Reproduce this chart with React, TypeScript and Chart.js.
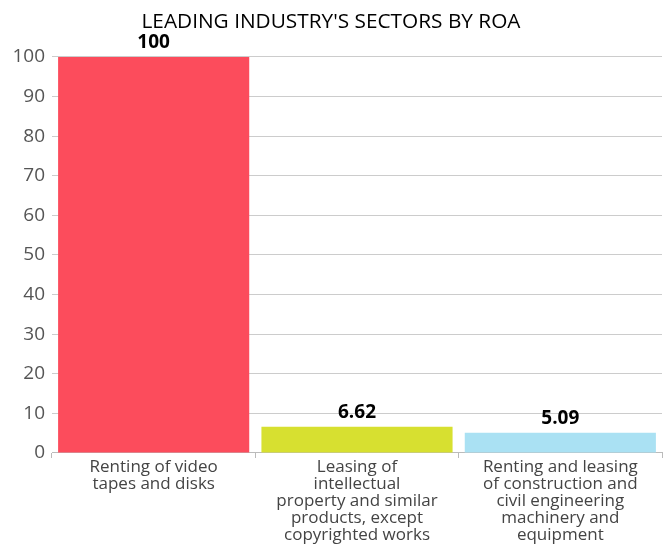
import React, { useEffect, useRef } from "react";
import { Chart, registerables } from "chart.js";

Chart.register(...registerables);

const categories: string[][] = [
  ["Renting of video", "tapes and disks"],
  ["Leasing of", "intellectual", "property and similar", "products, except", "copyrighted works"],
  ["Renting and leasing", "of construction and", "civil engineering", "machinery and", "equipment"],
];
const values: number[] = [100, 6.62, 5.09];
const valueLabels: string[] = ["100", "6.62", "5.09"];
const barColors: string[] = ["#FC4C5C", "#D7E030", "#AAE1F3"];
const titleText = "LEADING INDUSTRY'S SECTORS BY ROA";
const FONT = "'Open Sans', sans-serif";

const valueLabelPlugin = {
  id: "valueLabels",
  afterDatasetsDraw(chart: any) {
    const ctx = chart.ctx;
    const meta = chart.getDatasetMeta(0);
    ctx.save();
    ctx.font = `bold 19px ${FONT}`;
    ctx.fillStyle = "#000";
    ctx.textAlign = "center";
    ctx.textBaseline = "middle";
    meta.data.forEach((bar: any, i: number) => {
      ctx.fillText(valueLabels[i], bar.x, bar.y - 14);
    });
    ctx.restore();
  },
};

export default function App() {
  const ref = useRef<HTMLCanvasElement>(null);
  useEffect(() => {
    document.body.style.margin = "0";
    const chart = new Chart(ref.current!, {
      type: "bar",
      data: {
        labels: categories,
        datasets: [
          {
            data: values,
            backgroundColor: barColors,
            barPercentage: 0.94,
            categoryPercentage: 1,
          },
        ],
      },
      options: {
        animation: false,
        responsive: false,
        layout: { padding: { left: 0, right: 8, top: 0, bottom: 0 } },
        plugins: {
          legend: { display: false },
          tooltip: { enabled: false },
          title: {
            display: true,
            text: titleText,
            color: "#000",
            font: { family: FONT, size: 20.8, weight: "normal", lineHeight: 1.2 },
            padding: { top: 10, bottom: 22 },
          },
        },
        scales: {
          x: {
            offset: true,
            grid: { display: true, drawOnChartArea: false, tickLength: 5, color: "#BBBBBB" },
            border: { display: true, color: "#BBBBBB" },
            ticks: {
              color: "#444",
              font: { family: FONT, size: 17, lineHeight: 1.0 },
              maxRotation: 0,
              autoSkip: false,
              padding: 1,
            },
            afterFit(scale: any) {
              scale.height = 93;
            },
          },
          y: {
            min: 0,
            max: 100,
            ticks: {
              stepSize: 10,
              color: "#555",
              font: { family: FONT, size: 19 },
              padding: 7,
            },
            grid: { color: "#CCCCCC", tickLength: 0 },
            border: { display: false },
            afterFit(scale: any) {
              scale.width = 52;
            },
          },
        },
      },
      plugins: [valueLabelPlugin],
    });
    return () => chart.destroy();
  }, []);
  return (
    <div style={{ width: 670, height: 546 }}>
      <canvas ref={ref} width={670} height={546} style={{ display: "block" }} />
    </div>
  );
}
